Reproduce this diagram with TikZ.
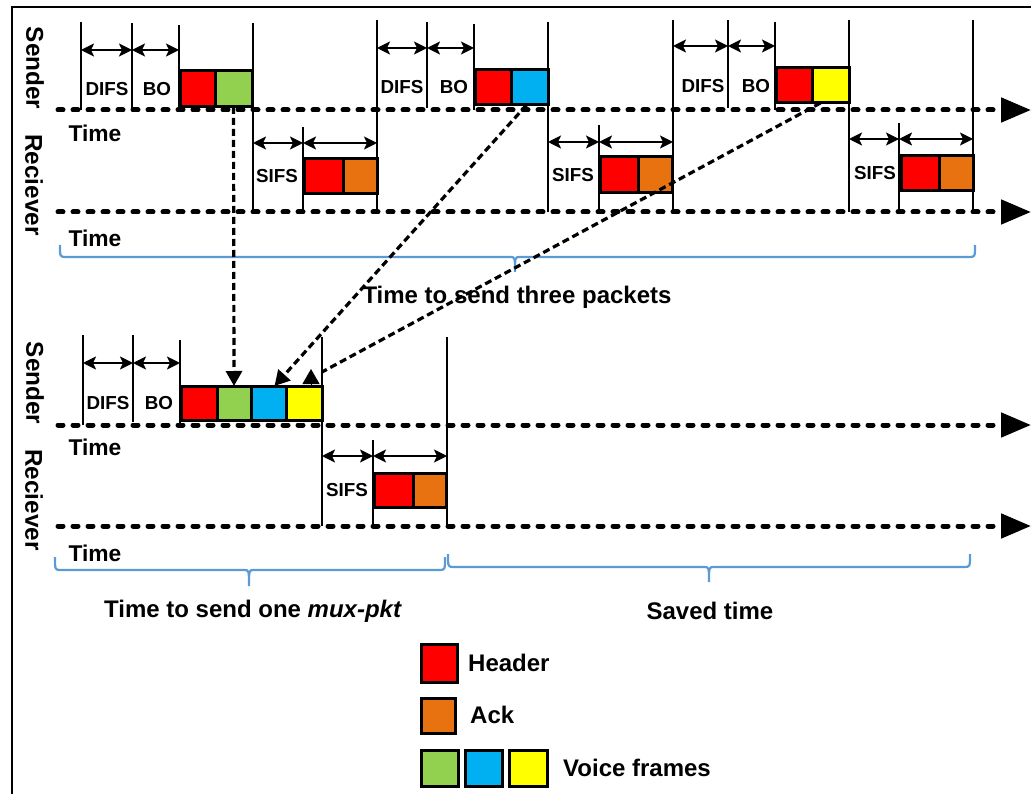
\documentclass[tikz,border=0pt]{standalone}
\usepackage{fontspec}
\setmainfont{Liberation Sans}
\usetikzlibrary{arrows.meta}

\definecolor{hdrred}{HTML}{FF0000}
\definecolor{ackorange}{HTML}{E8720F}
\definecolor{vgreen}{HTML}{92D050}
\definecolor{vblue}{HTML}{00B0F0}
\definecolor{vyellow}{HTML}{FFFF00}
\definecolor{bracecol}{HTML}{5B9BD5}

% a frame slot drawn from its corners: name, colour, x1, y1, x2, y2
\newcommand\slot[6]{%
  \node[slotbox, fill=#2, minimum width={(#5-#3)*1pt}, minimum height={(#6-#4)*1pt}]
    (#1) at ({(#3+#5)/2},{(#4+#6)/2}) {};}

% a flat brace: x left, x middle, x right, line y, end y, tip y
\newcommand\spanbrace[6]{%
  \draw[braceline] (#1,#5) .. controls (#1,#4) .. ({#1+6},#4) -- ({#2-5},#4)
    .. controls (#2,#4) .. (#2,#6) .. controls (#2,#4) .. ({#2+5},#4)
    -- ({#3-6},#4) .. controls (#3,#4) .. (#3,#5);}

\begin{document}
\begin{tikzpicture}[x=1pt,y=-1pt,
  slotbox/.style={draw=black,line width=3pt,inner sep=0pt,outer sep=0pt},
  bar/.style={line width=2.8pt},
  dim/.style={line width=2pt,
    {Stealth[length=13pt,width=13pt,inset=3pt]}-{Stealth[length=13pt,width=13pt,inset=3pt]}},
  axis/.style={line width=5pt,line cap=round,dash pattern=on 5pt off 10pt,
    -{Triangle[length=30pt,width=24pt]}},
  move/.style={line width=3.2pt,dash pattern=on 7pt off 4pt,
    -{Triangle[length=15pt,width=16pt]}},
  braceline/.style={draw=bracecol,line width=2.2pt},
  gap/.style={inner sep=0pt,font=\bfseries\fontsize{18.8}{20}\selectfont},
  timelbl/.style={inner sep=0pt,font=\bfseries\fontsize{22.8}{24}\selectfont},
  side/.style={inner sep=0pt,rotate=-90,font=\bfseries\fontsize{24.3}{26}\selectfont},
  lbl/.style={inner sep=0pt,font=\bfseries\fontsize{24}{26}\selectfont}
]
\useasboundingbox (0,0) rectangle (1031,794);

% outer frame
\draw[line width=2.8pt] (12,794) -- (12,7) -- (1031,7);

% ---------- upper diagram: three separate packets ----------
\node[side] (snd1) at (35,68) {Sender};
\node[side] (rcv1) at (34,185) {Reciever};
\node[timelbl] (tm1) at (95,133) {Time};
\node[timelbl] (tm2) at (95,238) {Time};

\draw[axis] (58,110) -- (1031,110);
\draw[axis] (58,212) -- (1031,212);

\foreach \x/\a/\b in {81/22/110, 132/23/108, 179/25/110, 253/23/212, 303/127/212,
  377/20/212, 427/22/108, 474/24/110, 548/22/212, 599/125/212, 673/20/212,
  728/20/108, 775/22/110, 849/20/212, 899/123/212, 973/20/212}
  \draw[bar] (\x,\a) -- (\x,\b);

\foreach \a/\b/\y in {81/132/50, 132/179/50, 253/303/143, 303/377/143,
  377/427/48, 427/474/48, 548/599/142, 599/673/142,
  673/728/46, 728/775/46, 849/899/139, 899/973/139}
  \draw[dim] (\a,\y) -- (\b,\y);

\node[gap] (d1) at (107,89) {DIFS};
\node[gap] (b1) at (157,89) {BO};
\node[gap] (s1) at (277,176) {SIFS};
\node[gap] (d2) at (402,87) {DIFS};
\node[gap] (b2) at (454,87) {BO};
\node[gap] (s2) at (573,175) {SIFS};
\node[gap] (d3) at (703,86) {DIFS};
\node[gap] (b3) at (756,86) {BO};
\node[gap] (s3) at (875,173) {SIFS};

\slot{H1}{hdrred}{180}{71}{215}{107}
\slot{G1}{vgreen}{215}{71}{252}{107}
\slot{R1}{hdrred}{304}{159}{343}{194}
\slot{A1}{ackorange}{343}{159}{377}{194}

\slot{H2}{hdrred}{475}{70}{511}{105}
\slot{B1}{vblue}{511}{70}{548}{105}
\slot{R2}{hdrred}{600}{157}{638}{193}
\slot{A2}{ackorange}{638}{157}{672}{193}

\slot{H3}{hdrred}{776}{68}{812}{103}
\slot{Y1}{vyellow}{812}{68}{849}{103}
\slot{R3}{hdrred}{901}{156}{939}{191}
\slot{A3}{ackorange}{939}{156}{973}{191}

\spanbrace{60}{515}{975}{257}{245}{272}
\node[lbl] (three) at (517,297) {Time to send three packets};

% ---------- lower diagram: one multiplexed packet ----------
\node[side] (snd2) at (35,383) {Sender};
\node[side] (rcv2) at (34,500) {Reciever};
\node[timelbl] (tm3) at (95,447) {Time};
\node[timelbl] (tm4) at (95,553) {Time};

\draw[axis] (58,425) -- (1031,425);
\draw[axis] (58,526) -- (1031,526);

\foreach \x/\a/\b in {83/335/425, 133/335/422, 180/340/425, 322/337/526,
  373/440/526, 447/337/526}
  \draw[bar] (\x,\a) -- (\x,\b);

\foreach \a/\b/\y in {83/133/363, 133/180/363, 322/373/456, 373/447/456}
  \draw[dim] (\a,\y) -- (\b,\y);

\node[gap] (d4) at (108,403) {DIFS};
\node[gap] (b4) at (159,403) {BO};
\node[gap] (s4) at (347,490) {SIFS};

\slot{H4}{hdrred}{181}{386}{217}{420}
\slot{G4}{vgreen}{217}{386}{251}{420}
\slot{B4}{vblue}{251}{386}{286}{420}
\slot{Y4}{vyellow}{286}{386}{322}{420}
\slot{R4}{hdrred}{374}{473}{413}{507}
\slot{A4}{ackorange}{413}{473}{446}{507}

\spanbrace{55}{249}{445}{570}{557}{586}
\spanbrace{448}{709}{970}{567}{554}{582}
\node[lbl] (one) at (253,611) {Time to send one \textit{mux-pkt}};
\node[lbl] (saved) at (710,611) {Saved time};

% voice frames gathered into the multiplexed packet
\draw[move] (G1.south) -- (G4.north);
\draw[move] ([xshift=-3pt]B1.south) -- ([xshift=6pt]B4.north);
\coordinate (c3) at ([yshift=14pt]Y4.north east);
\draw[move,-] ([xshift=-10pt]Y1.south) -- (c3);
\draw[line width=1pt,-{Triangle[length=15pt,width=17pt]}]
  ([xshift=-11pt]Y4.north east) -- ([xshift=-11pt,yshift=17pt]Y4.north east);

% ---------- legend ----------
\slot{kH}{hdrred}{421}{644}{457}{682}
\node[lbl,anchor=west] (kHt) at (468,663) {Header};
\slot{kA}{ackorange}{421}{698}{455}{733}
\node[lbl,anchor=west] (kAt) at (470,715) {Ack};
\slot{kG}{vgreen}{421}{750}{458}{786}
\slot{kB}{vblue}{465}{750}{502}{786}
\slot{kY}{vyellow}{509}{750}{547}{786}
\node[lbl,anchor=west] (kVt) at (563,768) {Voice frames};
\end{tikzpicture}
\end{document}
